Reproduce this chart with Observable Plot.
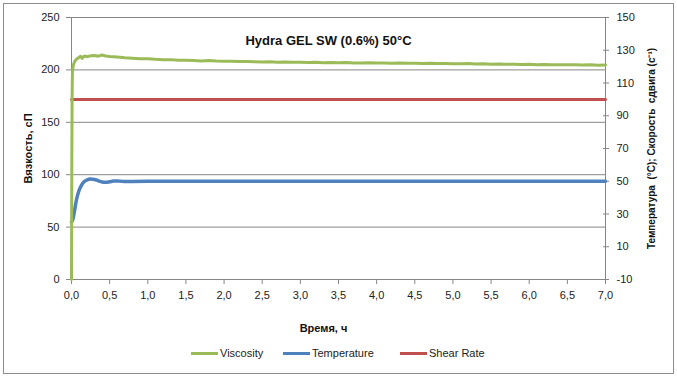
<!DOCTYPE html>
<html>
<head>
<meta charset="utf-8">
<script src="https://cdn.jsdelivr.net/npm/d3@7"></script>
<script src="https://cdn.jsdelivr.net/npm/@observablehq/plot@0.6"></script>
<style>
  html, body { margin: 0; padding: 0; background: #fff; }
  #wrap { position: relative; width: 677px; height: 376px; font-family: "Liberation Sans", Arial, sans-serif; }
  #border { position: absolute; left: 3px; top: 3px; width: 669px; height: 369px; border: 1px solid #8c8c8c; pointer-events: none; }
  #legend { position: absolute; top: 345px; left: 0; width: 677px; height: 16px; font-size: 11px; color: #222; }
  .item { position: absolute; top: 0; display: flex; align-items: center; height: 16px; }
  .sw { display: inline-block; width: 27px; height: 3px; margin-right: 2px; }
</style>
</head>
<body>
<div id="wrap">
  <div id="chart"></div>
  <div id="legend"></div>
  <div id="border"></div>
</div>
<script>
// ---- Data ----
const title = "Hydra GEL SW (0.6%) 50°C";
const xLabel = "Время, ч";
const yLeftLabel = "Вязкость, сП";
const yRightLabel = "Температура  (°C); Скорость  сдвига (с⁻¹)";

// Viscosity, cP (left axis)
const viscTime = [0, 0.004, 0.008, 0.012, 0.02, 0.03, 0.05, 0.07, 0.1, 0.12, 0.14, 0.16, 0.18, 0.2, 0.25, 0.3, 0.35, 0.4, 0.45, 0.5,
  0.6, 0.7, 0.8, 0.9, 1.0, 1.1, 1.2, 1.3, 1.4, 1.5, 1.6, 1.7, 1.8, 1.9, 2.0, 2.1, 2.2, 2.3, 2.4, 2.5,
  2.6, 2.7, 2.8, 2.9, 3.0, 3.1, 3.2, 3.3, 3.4, 3.5, 3.6, 3.7, 3.8, 3.9, 4.0, 4.1, 4.2, 4.3, 4.4, 4.5,
  4.6, 4.7, 4.8, 4.9, 5.0, 5.1, 5.2, 5.3, 5.4, 5.5, 5.6, 5.7, 5.8, 5.9, 6.0, 6.1, 6.2, 6.3, 6.4, 6.5,
  6.6, 6.7, 6.8, 6.9, 7.0];
const viscosity = [0, 110, 175, 196, 203, 206, 209, 210.5, 212, 213, 211, 212.8, 213.2, 212.6, 213.4, 213.8, 213.1, 214.2, 213.3, 212.8,
  212.3, 211.6, 211.2, 210.6, 210.7, 210.1, 209.7, 209.8, 209.2, 209.3, 208.9, 208.6, 208.9, 208.4, 208.2, 208.3, 207.9, 208.1, 207.8, 207.6,
  207.7, 207.4, 207.6, 207.2, 207.4, 207.1, 207.3, 206.9, 207.0, 206.8, 207.0, 206.7, 206.6, 206.8, 206.5, 206.7, 206.4, 206.5, 206.3, 206.4,
  206.1, 206.3, 206.0, 206.2, 205.9, 205.8, 206.0, 205.6, 205.8, 205.5, 205.6, 205.3, 205.5, 205.2, 205.3, 205.0, 205.2, 204.9, 205.0, 204.8,
  204.9, 204.6, 204.8, 204.5, 204.6];

// Temperature, °C (right axis)
const tempTime = [0, 0.02, 0.04, 0.06, 0.08, 0.1, 0.13, 0.16, 0.2, 0.25, 0.3, 0.35, 0.4, 0.45, 0.5, 0.55, 0.6, 0.65, 0.7, 0.75, 0.8, 1.0, 7.0];
const temperature = [25, 27, 32, 37.5, 41.5, 44.5, 47.5, 49.5, 50.7, 51.3, 51.1, 50.3, 49.6, 49.4, 49.7, 50.1, 50.2, 50.0, 49.8, 49.8, 49.9, 50, 50];

// Shear rate, 1/s (right axis)
const shearTime = [0, 7.0];
const shearRate = [100, 100];

const xTicks = [0, 0.5, 1, 1.5, 2, 2.5, 3, 3.5, 4, 4.5, 5, 5.5, 6, 6.5, 7];
const leftTicks = [0, 50, 100, 150, 200, 250];
const rightTicks = [-10, 10, 30, 50, 70, 90, 110, 130, 150];
const rightDomain = [-10, 150];
const leftDomain = [0, 250];

const colors = { Viscosity: "#9bbb59", Temperature: "#4f81bd", "Shear Rate": "#c0504d" };

// map right-axis values onto the left scale
const k = (leftDomain[1] - leftDomain[0]) / (rightDomain[1] - rightDomain[0]);
const toLeft = v => leftDomain[0] + (v - rightDomain[0]) * k;
const fromLeft = v => Math.round(rightDomain[0] + (v - leftDomain[0]) / k);

const viscData = viscTime.map((t, i) => ({ t, v: viscosity[i] }));
const tempData = tempTime.map((t, i) => ({ t, v: toLeft(temperature[i]) }));
const shearData = shearTime.map((t, i) => ({ t, v: toLeft(shearRate[i]) }));

const fmtX = d => d.toFixed(1).replace(".", ",");
const grid = "#868686";
const font = "Liberation Sans, Arial, sans-serif";

const chart = Plot.plot({
  width: 677,
  height: 376,
  marginLeft: 71,
  marginRight: 72,
  marginTop: 17,
  marginBottom: 97,
  style: { fontFamily: font, fontSize: "11px", color: "#222", background: "transparent", overflow: "visible" },
  x: { domain: [0, 7] },
  y: { domain: leftDomain },
  marks: [
    Plot.gridY({ ticks: leftTicks, stroke: grid, strokeOpacity: 1 }),
    Plot.ruleX([0, 7], { stroke: grid }),
    Plot.axisX({ ticks: xTicks, tickFormat: fmtX, tickSize: 5, tickPadding: 7, stroke: grid, label: null, fill: "#222" }),
    Plot.axisY({ ticks: leftTicks, tickSize: 5, tickPadding: 7, stroke: grid, label: null, fill: "#222" }),
    Plot.axisY({ anchor: "right", ticks: rightTicks.map(toLeft), tickSize: 6, dx: -3, tickFormat: () => "", stroke: grid, label: null }),
    Plot.axisY({ anchor: "right", ticks: rightTicks.map(toLeft), tickSize: 0, tickPadding: 11, tickFormat: fromLeft, label: null, fill: "#222" }),
    Plot.line(shearData, { x: "t", y: "v", stroke: colors["Shear Rate"], strokeWidth: 3 }),
    Plot.line(tempData, { x: "t", y: "v", stroke: colors.Temperature, strokeWidth: 3.5, curve: "monotone-x" }),
    Plot.line(viscData, { x: "t", y: "v", stroke: colors.Viscosity, strokeWidth: 3 }),
    Plot.text([title], { frameAnchor: "top", dx: -10, dy: 18, fontSize: 13, fontWeight: "bold", fill: "#111" }),
    Plot.text([xLabel], { frameAnchor: "bottom", dx: -15, dy: 52, fontSize: 11, fontWeight: "bold", fill: "#111" }),
    Plot.text([yLeftLabel], { frameAnchor: "left", textAnchor: "middle", dx: -43, rotate: -90, fontSize: 11, fontWeight: "bold", fill: "#111" }),
    Plot.text([yRightLabel], { frameAnchor: "right", textAnchor: "middle", dx: 46, rotate: -90, fontSize: 10, fontWeight: "bold", fill: "#111" })
  ]
});
document.getElementById("chart").appendChild(chart);

// legend
const legendItems = [
  { name: "Viscosity", left: 191 },
  { name: "Temperature", left: 283 },
  { name: "Shear Rate", left: 400 }
];
const leg = document.getElementById("legend");
legendItems.forEach(it => {
  const d = document.createElement("div");
  d.className = "item";
  d.style.left = it.left + "px";
  d.innerHTML = `<span class="sw" style="background:${colors[it.name]}"></span><span>${it.name}</span>`;
  leg.appendChild(d);
});
</script>
</body>
</html>
